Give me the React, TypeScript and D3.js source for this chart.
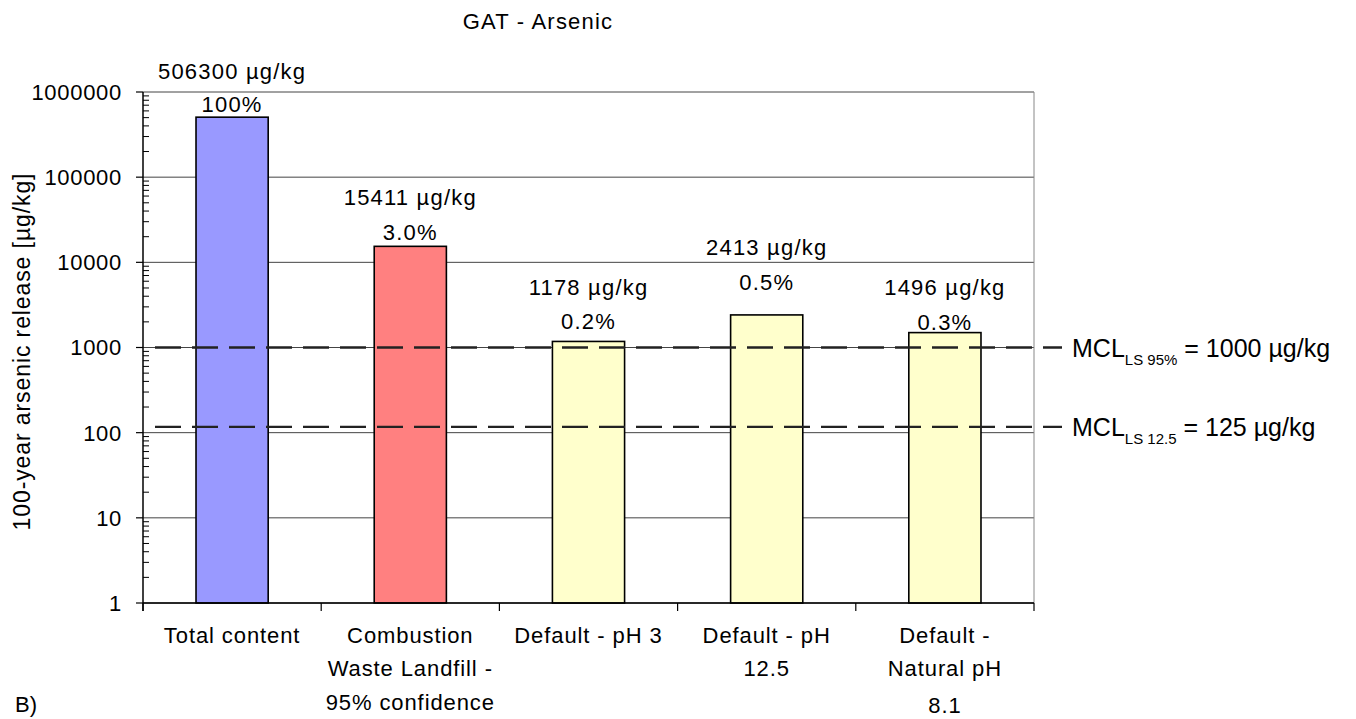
import React from "react";
import * as d3 from "d3";

// ---- data ----
const categories: string[][] = [
  ["Total content"],
  ["Combustion", "Waste Landfill -", "95% confidence"],
  ["Default - pH 3"],
  ["Default - pH", "12.5"],
  ["Default -", "Natural pH", "8.1"],
];
const releaseValues: number[] = [506300, 15411, 1178, 2413, 1496];
const valueLabels: string[] = ["506300 µg/kg", "15411 µg/kg", "1178 µg/kg", "2413 µg/kg", "1496 µg/kg"];
const percentLabels: string[] = ["100%", "3.0%", "0.2%", "0.5%", "0.3%"];
const barColors: string[] = ["#9999FF", "#FF8080", "#FFFFCC", "#FFFFCC", "#FFFFCC"];
const yTickValues: number[] = [1, 10, 100, 1000, 10000, 100000, 1000000];
const yTickLabels: string[] = ["1", "10", "100", "1000", "10000", "100000", "1000000"];
const mclLineValues: number[] = [1000, 117];
const mclSubscripts: string[] = ["LS 95%", "LS 12.5"];
const mclTexts: string[] = [" = 1000 µg/kg", " = 125 µg/kg"];

// ---- layout (not data) ----
const W = 1356;
const H = 719;
const X0 = 143;
const X1 = 1034;
const YTOP = 92;
const YBOT = 603;
const valueLabelDy = [-46, -49, -54, -68, -46];
const pctLabelDy = [-13, -14, -20, -33, -11];
const catLineY = [635, 668, 702];
const FONT = "'Liberation Sans', Arial, sans-serif";

export default function App() {
  const x = d3
    .scaleBand<number>()
    .domain(categories.map((_, i) => i))
    .range([X0, X1])
    .paddingInner(0)
    .paddingOuter(0);
  const y = d3.scaleLog().domain([1, 1000000]).range([YBOT, YTOP]);
  const bw = x.bandwidth() * 0.405;

  const minorTicks: number[] = [];
  for (let d = 1; d < 1000000; d *= 10) {
    for (let k = 2; k <= 9; k++) minorTicks.push(d * k);
  }
  const boundaries = categories.map((_, i) => x(i)!).concat([X1]);

  return (
    <svg
      width={W}
      height={H}
      style={{ position: "absolute", left: 0, top: 0, background: "#fff", fontFamily: FONT }}
    >
      {/* title */}
      <text x={538} y={29} fontSize={22} textAnchor="middle" letterSpacing={1.2} fill="#000">
        GAT -  Arsenic
      </text>

      {/* gridlines */}
      {yTickValues.map((v) => (
        <line key={"g" + v} x1={X0} x2={X1} y1={y(v)} y2={y(v)} stroke="#444" strokeWidth={1} />
      ))}
      {/* right border */}
      <line x1={X1} x2={X1} y1={YTOP} y2={YBOT} stroke="#888" strokeWidth={1} />

      {/* bars */}
      {releaseValues.map((v, i) => {
        const cx = x(i)! + x.bandwidth() / 2;
        return (
          <rect
            key={"b" + i}
            x={cx - bw / 2}
            y={y(v)}
            width={bw}
            height={YBOT - y(v)}
            fill={barColors[i]}
            stroke="#000"
            strokeWidth={1.6}
          />
        );
      })}

      {/* y axis */}
      <line x1={X0} x2={X0} y1={YTOP} y2={YBOT + 8} stroke="#000" strokeWidth={1.5} />
      {yTickValues.map((v) => (
        <line key={"t" + v} x1={X0 - 7} x2={X0} y1={y(v)} y2={y(v)} stroke="#000" strokeWidth={1.2} />
      ))}
      {minorTicks.map((v) => (
        <line key={"m" + v} x1={X0} x2={X0 + 6} y1={y(v)} y2={y(v)} stroke="#000" strokeWidth={1} />
      ))}
      {yTickValues.map((v, i) => (
        <text
          key={"tl" + v}
          x={122}
          y={y(v)}
          dy="0.36em"
          fontSize={22}
          textAnchor="end"
          letterSpacing={0.7}
          fill="#000"
        >
          {yTickLabels[i]}
        </text>
      ))}
      <text
        transform={`translate(30, ${(YTOP + YBOT) / 2 + 4}) rotate(-90)`}
        fontSize={23}
        textAnchor="middle"
        letterSpacing={0.9}
        fill="#000"
      >
        100-year arsenic release [µg/kg]
      </text>

      {/* x axis */}
      <line x1={X0} x2={X1} y1={YBOT} y2={YBOT} stroke="#000" strokeWidth={1.5} />
      {boundaries.map((bx, i) => (
        <line key={"xt" + i} x1={bx} x2={bx} y1={YBOT} y2={YBOT + 8} stroke="#000" strokeWidth={1.2} />
      ))}
      {categories.map((lines, i) => {
        const cx = x(i)! + x.bandwidth() / 2;
        return lines.map((ln, j) => (
          <text
            key={"c" + i + "-" + j}
            x={cx}
            y={catLineY[j] + (i === 4 && j === 2 ? 3 : 0)}
            dy="0.36em"
            fontSize={22}
            textAnchor="middle"
            letterSpacing={0.9}
            fill="#000"
          >
            {ln}
          </text>
        ));
      })}

      {/* value labels */}
      {releaseValues.map((v, i) => {
        const cx = x(i)! + x.bandwidth() / 2;
        return (
          <g key={"vl" + i}>
            <text
              x={cx}
              y={y(v) + valueLabelDy[i]}
              dy="0.36em"
              fontSize={22}
              textAnchor="middle"
              letterSpacing={1.2}
              fill="#000"
            >
              {valueLabels[i]}
            </text>
            <text
              x={cx}
              y={y(v) + pctLabelDy[i]}
              dy="0.36em"
              fontSize={22}
              textAnchor="middle"
              letterSpacing={1.2}
              fill="#000"
            >
              {percentLabels[i]}
            </text>
          </g>
        );
      })}

      {/* MCL dashed lines */}
      {mclLineValues.map((v, i) => (
        <g key={"mcl" + i}>
          <line
            x1={155}
            x2={1062}
            y1={y(v)}
            y2={y(v)}
            stroke="#222"
            strokeWidth={2.4}
            strokeDasharray="26,11"
          />
          <text x={1072} y={y(v) + 9} fontSize={25} fill="#000">
            MCL
            <tspan fontSize={15} dy={8}>
              {mclSubscripts[i]}
            </tspan>
            <tspan dy={-8}>{mclTexts[i]}</tspan>
          </text>
        </g>
      ))}

      {/* panel label */}
      <text x={15} y={712} fontSize={22} fill="#000">
        B)
      </text>
    </svg>
  );
}
